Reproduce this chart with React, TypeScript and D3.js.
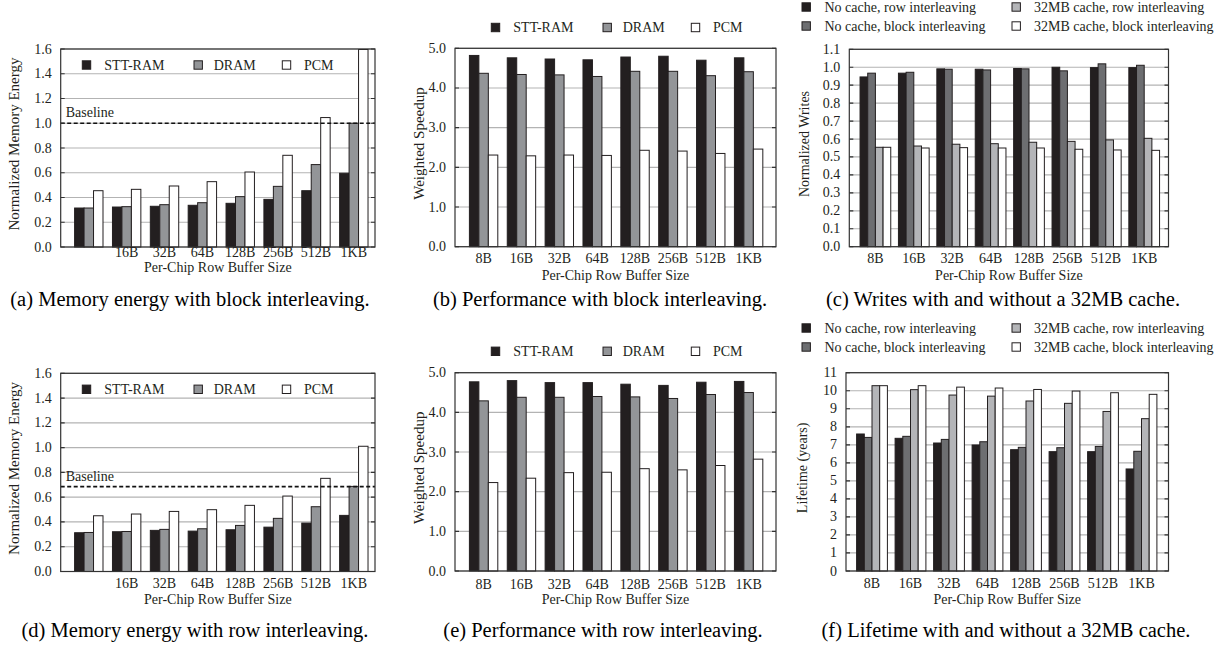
import React, { useEffect, useRef } from 'react';
import * as d3 from 'd3';

// row buffer sizes (x categories)
const sizes = ['8B', '16B', '32B', '64B', '128B', '256B', '512B', '1KB'];
// the energy charts leave the first tick label out
const energySizeLabels = ['', '16B', '32B', '64B', '128B', '256B', '512B', '1KB'];

const memSeries = ['STT-RAM', 'DRAM', 'PCM'];
const cacheSeries = [
  'No cache, row interleaving',
  'No cache, block interleaving',
  '32MB cache, row interleaving',
  '32MB cache, block interleaving'
];

// (a) memory energy, block interleaving
const energyBlockStt = [0.315, 0.323, 0.329, 0.337, 0.353, 0.385, 0.455, 0.596];
const energyBlockDram = [0.315, 0.326, 0.342, 0.358, 0.407, 0.49, 0.666, 1.0];
const energyBlockPcm = [0.455, 0.466, 0.493, 0.528, 0.606, 0.741, 1.046, 1.596];

// (b) weighted speedup, block interleaving
const speedBlockStt = [4.82, 4.76, 4.73, 4.71, 4.78, 4.8, 4.7, 4.76];
const speedBlockDram = [4.37, 4.34, 4.33, 4.29, 4.42, 4.42, 4.31, 4.41];
const speedBlockPcm = [2.31, 2.29, 2.31, 2.3, 2.43, 2.41, 2.35, 2.46];

// (c) normalized writes
const writesNoRow = [0.946, 0.967, 0.991, 0.989, 0.993, 1.0, 0.998, 0.998];
const writesNoBlock = [0.967, 0.972, 0.989, 0.985, 0.991, 0.98, 1.019, 1.011];
const writesCacheRow = [0.554, 0.561, 0.571, 0.574, 0.582, 0.587, 0.595, 0.604];
const writesCacheBlock = [0.554, 0.55, 0.552, 0.55, 0.55, 0.543, 0.539, 0.537];

// (d) memory energy, row interleaving
const energyRowStt = [0.313, 0.321, 0.332, 0.326, 0.337, 0.358, 0.391, 0.453];
const energyRowDram = [0.315, 0.323, 0.34, 0.345, 0.372, 0.429, 0.523, 0.687];
const energyRowPcm = [0.45, 0.464, 0.485, 0.499, 0.534, 0.609, 0.752, 1.011];
const energyRowBaseline = 0.685;

// (e) weighted speedup, row interleaving
const speedRowStt = [4.77, 4.8, 4.75, 4.75, 4.71, 4.68, 4.76, 4.78];
const speedRowDram = [4.29, 4.38, 4.38, 4.4, 4.39, 4.35, 4.45, 4.5];
const speedRowPcm = [2.23, 2.34, 2.48, 2.49, 2.58, 2.55, 2.66, 2.82];

// (f) lifetime in years
const lifeNoRow = [7.6, 7.36, 7.1, 6.99, 6.73, 6.62, 6.62, 5.66];
const lifeNoBlock = [7.41, 7.47, 7.3, 7.17, 6.86, 6.84, 6.91, 6.64];
const lifeCacheRow = [10.28, 10.06, 9.76, 9.7, 9.43, 9.3, 8.85, 8.45];
const lifeCacheBlock = [10.28, 10.28, 10.2, 10.15, 10.07, 9.98, 9.89, 9.8];

const memColors = ['#231f20', '#939598', '#ffffff'];
const cacheColors = ['#231f20', '#6d6e71', '#b4b5b8', '#ffffff'];

const FONT = '"Liberation Serif", "Times New Roman", Times, serif';

type Panel = {
  left: number; right: number; top: number; bottom: number;
  firstCenter: number; pitch: number;
  yMax: number; yTicks: number; yFormat: (v: number) => string;
  series: string[]; colors: string[]; values: number[][];
  tickLabels: string[];
  yLabel: string; yLabelX: number; yLabelSize: number;
  tickBaseline: number; titleBaseline: number;
  caption: string; captionX: number; captionBaseline: number;
  legend: { x: number; textX: number; y: number }[];
  baseline?: number;
};

const drawPanel = (svg: any, p: Panel) => {
  const g = svg.append('g');
  const x = d3.scaleLinear().domain([0, 7]).range([p.firstCenter, p.firstCenter + 7 * p.pitch]);
  const y = d3.scaleLinear().domain([0, p.yMax]).range([p.bottom, p.top]);
  const n = p.values.length;
  const bw = p.pitch / (n + 1);
  const ticks = y.ticks(p.yTicks);

  // grid
  g.append('g').selectAll('line').data(ticks).join('line')
    .attr('x1', p.left).attr('x2', p.right)
    .attr('y1', (d: number) => y(d)).attr('y2', (d: number) => y(d))
    .attr('stroke', '#b3b3b3').attr('stroke-width', 1.2);

  // bars
  p.values.forEach((vals, j) => {
    g.append('g').selectAll('rect').data(vals).join('rect')
      .attr('x', (_d: number, i: number) => x(i) + (j - n / 2) * bw)
      .attr('y', (d: number) => y(d))
      .attr('width', bw)
      .attr('height', (d: number) => p.bottom - y(d))
      .attr('fill', p.colors[j])
      .attr('stroke', '#231f20').attr('stroke-width', 1);
  });

  if (p.baseline !== undefined) {
    g.append('line')
      .attr('x1', p.left).attr('x2', p.right)
      .attr('y1', y(p.baseline)).attr('y2', y(p.baseline))
      .attr('stroke', '#111').attr('stroke-width', 1.6).attr('stroke-dasharray', '4,2.5');
    g.append('text')
      .attr('x', p.left + 5).attr('y', y(p.baseline) - 6)
      .attr('font-size', 14).attr('fill', '#231f20')
      .text('Baseline');
  }

  // frame and inward ticks
  g.append('rect')
    .attr('x', p.left).attr('y', p.top)
    .attr('width', p.right - p.left).attr('height', p.bottom - p.top)
    .attr('fill', 'none').attr('stroke', '#333').attr('stroke-width', 1.2);
  g.append('g').selectAll('path').data(ticks).join('path')
    .attr('d', (d: number) => `M${p.left},${y(d)}h4M${p.right},${y(d)}h-4`)
    .attr('stroke', '#333').attr('stroke-width', 1.2);

  // y tick labels
  g.append('g').selectAll('text').data(ticks).join('text')
    .attr('x', p.left - 9).attr('y', (d: number) => y(d) + 4.5)
    .attr('text-anchor', 'end').attr('font-size', 14).attr('fill', '#231f20')
    .text((d: number) => p.yFormat(d));

  // x tick labels
  g.append('g').selectAll('text').data(p.tickLabels).join('text')
    .attr('x', (_d: string, i: number) => x(i)).attr('y', p.tickBaseline)
    .attr('text-anchor', 'middle').attr('font-size', 14).attr('fill', '#231f20')
    .text((d: string) => d);

  g.append('text')
    .attr('x', (p.left + p.right) / 2).attr('y', p.titleBaseline)
    .attr('text-anchor', 'middle').attr('font-size', 14).attr('fill', '#231f20')
    .text('Per-Chip Row Buffer Size');

  g.append('text')
    .attr('transform', `translate(${p.yLabelX},${(p.top + p.bottom) / 2 - 4}) rotate(-90)`)
    .attr('text-anchor', 'middle').attr('font-size', p.yLabelSize).attr('fill', '#231f20')
    .text(p.yLabel);

  // legend
  p.legend.forEach((l, j) => {
    g.append('rect')
      .attr('x', l.x).attr('y', l.y - 4.2).attr('width', 8.4).attr('height', 8.4)
      .attr('fill', p.colors[j]).attr('stroke', '#231f20').attr('stroke-width', 1);
    g.append('text')
      .attr('x', l.textX).attr('y', l.y + 4.5)
      .attr('font-size', 14).attr('fill', '#231f20')
      .text(p.series[j]);
  });

  g.append('text')
    .attr('x', p.captionX).attr('y', p.captionBaseline)
    .attr('text-anchor', 'middle').attr('font-size', 20.5).attr('fill', '#000')
    .text(p.caption);

  g.selectAll('text').style('font-family', FONT);
};

const fmt1 = (v: number) => v.toFixed(1);
const fmt0 = (v: number) => String(Math.round(v));

const memLegend = (dx: number, yy: number) => [
  { x: 82.3 + dx, textX: 104.3 + dx, y: yy },
  { x: 194 + dx, textX: 213.7 + dx, y: yy },
  { x: 282.3 + dx, textX: 304 + dx, y: yy }
];
const cacheLegend = (y1: number, y2: number) => [
  { x: 802, textX: 824.5, y: y1 },
  { x: 802, textX: 824.5, y: y2 },
  { x: 1012, textX: 1034, y: y1 },
  { x: 1012, textX: 1034, y: y2 }
];

const App = () => {
  const chartRef = useRef<SVGSVGElement>(null);

  useEffect(() => {
    const svg = d3.select(chartRef.current);
    svg.selectAll('*').remove();

    drawPanel(svg, {
      left: 60.7, right: 375, top: 49, bottom: 247, firstCenter: 88.8, pitch: 37.86,
      yMax: 1.6, yTicks: 8, yFormat: fmt1,
      series: memSeries, colors: memColors,
      values: [energyBlockStt, energyBlockDram, energyBlockPcm],
      tickLabels: energySizeLabels,
      yLabel: 'Normalized Memory Energy', yLabelX: 19, yLabelSize: 15,
      tickBaseline: 257, titleBaseline: 272,
      caption: '(a) Memory energy with block interleaving.', captionX: 190, captionBaseline: 306,
      legend: memLegend(0, 65),
      baseline: 1.0
    });

    drawPanel(svg, {
      left: 455, right: 776, top: 48.3, bottom: 246.7, firstCenter: 483.6, pitch: 37.86,
      yMax: 5, yTicks: 5, yFormat: fmt1,
      series: memSeries, colors: memColors,
      values: [speedBlockStt, speedBlockDram, speedBlockPcm],
      tickLabels: sizes,
      yLabel: 'Weighted Speedup', yLabelX: 424, yLabelSize: 15,
      tickBaseline: 262.5, titleBaseline: 280,
      caption: '(b) Performance with block interleaving.', captionX: 600, captionBaseline: 306,
      legend: memLegend(409, 27.5)
    });

    drawPanel(svg, {
      left: 849.3, right: 1168.5, top: 49.3, bottom: 246.7, firstCenter: 875.4, pitch: 38.4,
      yMax: 1.1, yTicks: 11, yFormat: fmt1,
      series: cacheSeries, colors: cacheColors,
      values: [writesNoRow, writesNoBlock, writesCacheRow, writesCacheBlock],
      tickLabels: sizes,
      yLabel: 'Normalized Writes', yLabelX: 809, yLabelSize: 14,
      tickBaseline: 262.5, titleBaseline: 280,
      caption: '(c) Writes with and without a 32MB cache.', captionX: 1003, captionBaseline: 306,
      legend: cacheLegend(7, 26)
    });

    drawPanel(svg, {
      left: 60.7, right: 375, top: 373.3, bottom: 571.5, firstCenter: 88.8, pitch: 37.86,
      yMax: 1.6, yTicks: 8, yFormat: fmt1,
      series: memSeries, colors: memColors,
      values: [energyRowStt, energyRowDram, energyRowPcm],
      tickLabels: energySizeLabels,
      yLabel: 'Normalized Memory Energy', yLabelX: 19, yLabelSize: 15,
      tickBaseline: 588, titleBaseline: 604,
      caption: '(d) Memory energy with row interleaving.', captionX: 195, captionBaseline: 637,
      legend: memLegend(0, 389.3),
      baseline: energyRowBaseline
    });

    drawPanel(svg, {
      left: 455, right: 776, top: 372.7, bottom: 571, firstCenter: 483.6, pitch: 37.86,
      yMax: 5, yTicks: 5, yFormat: fmt1,
      series: memSeries, colors: memColors,
      values: [speedRowStt, speedRowDram, speedRowPcm],
      tickLabels: sizes,
      yLabel: 'Weighted Speedup', yLabelX: 424, yLabelSize: 15,
      tickBaseline: 589, titleBaseline: 604,
      caption: '(e) Performance with row interleaving.', captionX: 603, captionBaseline: 637,
      legend: memLegend(409, 351.3)
    });

    drawPanel(svg, {
      left: 846, right: 1168.5, top: 372.7, bottom: 571, firstCenter: 872, pitch: 38.5,
      yMax: 11, yTicks: 11, yFormat: fmt0,
      series: cacheSeries, colors: cacheColors,
      values: [lifeNoRow, lifeNoBlock, lifeCacheRow, lifeCacheBlock],
      tickLabels: sizes,
      yLabel: 'Lifetime (years)', yLabelX: 807, yLabelSize: 14,
      tickBaseline: 588, titleBaseline: 604,
      caption: '(f) Lifetime with and without a 32MB cache.', captionX: 1006, captionBaseline: 637,
      legend: cacheLegend(328, 347)
    });
  }, []);

  return (
    <svg
      ref={chartRef}
      width={1226}
      height={647}
      style={{ position: 'absolute', left: 0, top: 0, background: '#fff' }}
    />
  );
};

export default App;
